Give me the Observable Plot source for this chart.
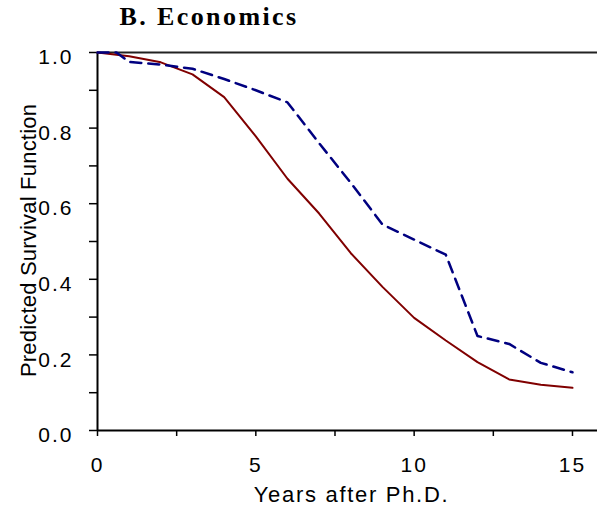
<!DOCTYPE html>
<html>
<head>
<meta charset="utf-8">
<script src="https://cdn.jsdelivr.net/npm/d3@7"></script>
<script src="https://cdn.jsdelivr.net/npm/@observablehq/plot@0.6"></script>
<style>
  html, body { margin: 0; padding: 0; background: white; }
</style>
</head>
<body>
<div id="chart"></div>
<script>
// Data
const solidYears = [0, 1, 2, 3, 4, 5, 6, 7, 8, 9, 10, 11, 12, 13, 14, 15];
const solidSurvival = [1.0, 0.99, 0.974, 0.942, 0.882, 0.778, 0.666, 0.574, 0.469, 0.38, 0.298, 0.238, 0.181, 0.135, 0.121, 0.113];

const dashedYears = [0, 0.6, 1, 2, 3, 4, 5, 6, 7, 8, 9, 10, 11, 12, 13, 14, 15];
const dashedSurvival = [1.0, 1.0, 0.975, 0.968, 0.957, 0.93, 0.90, 0.868, 0.76, 0.655, 0.545, 0.505, 0.465, 0.25, 0.229, 0.179, 0.154];

const xMajorTicks = [0, 5, 10, 15];
const xMinorTicks = [2.5, 7.5, 12.5];
const yMajorTicks = [0, 0.2, 0.4, 0.6, 0.8, 1.0];
const yAllTicks = [0, 0.1, 0.2, 0.3, 0.4, 0.5, 0.6, 0.7, 0.8, 0.9, 1.0];

const titleText = "B. Economics";
const xLabel = "Years after Ph.D.";
const yLabel = "Predicted Survival Function";

const solid = solidYears.map((x, i) => ({x, y: solidSurvival[i]}));
const dashed = dashedYears.map((x, i) => ({x, y: dashedSurvival[i]}));

const chart = Plot.plot({
  width: 597,
  height: 507,
  marginLeft: 97,
  marginRight: 0,
  marginTop: 52,
  marginBottom: 77,
  style: {fontFamily: "'Liberation Sans', Arial, sans-serif", fontSize: "21px", background: "white", overflow: "visible"},
  x: {domain: [0, 15.79], label: null},
  y: {domain: [0, 1], label: null},
  marks: [
    // axis ticks
    Plot.axisY(yAllTicks, {tickSize: 8, tickFormat: () => "", label: null, stroke: "black", strokeWidth: 1.5}),
    Plot.axisY(yMajorTicks, {tickSize: 0, tickPadding: 24, dy: 5, fontSize: 21, fill: "black", label: null, tickFormat: d => d.toFixed(1)}),
    Plot.axisX(xMajorTicks.concat(xMinorTicks), {tickSize: 6, tickFormat: () => "", label: null, stroke: "black", strokeWidth: 1.5}),
    Plot.axisX(xMajorTicks, {tickSize: 0, tickPadding: 27, fontSize: 21, fill: "black", label: null, tickFormat: d => String(d)}),
    // frame lines
    Plot.ruleY([1], {stroke: "#222", strokeWidth: 2}),
    Plot.ruleY([0], {stroke: "black", strokeWidth: 2}),
    Plot.ruleX([0], {stroke: "black", strokeWidth: 2}),
    // series
    Plot.line(solid, {x: "x", y: "y", stroke: "#800000", strokeWidth: 2}),
    Plot.line(dashed, {x: "x", y: "y", stroke: "#000080", strokeWidth: 2.5, strokeDasharray: "11,7"}),
    // labels
    Plot.text([yLabel], {text: d => d, frameAnchor: "left", textAnchor: "middle", lineAnchor: "middle", rotate: -90, dx: -69, dy: -1, fontSize: 22, fill: "black"}),
    Plot.text([xLabel], {text: d => d, frameAnchor: "bottom", textAnchor: "middle", lineAnchor: "bottom", dx: 4, dy: 71, fontSize: 22, fill: "black"}),
    Plot.text([titleText], {text: d => d, frameAnchor: "top-left", textAnchor: "start", lineAnchor: "bottom", dx: 22, dy: -28, fontSize: 26, fontWeight: "bold", fontFamily: "'Liberation Serif', 'Times New Roman', serif", fill: "black"})
  ]
});
document.getElementById("chart").appendChild(chart);

// letter spacing to match the wide lettering of the reference
const spacing = new Map([[titleText, "2.4px"], [xLabel, "1.7px"], [yLabel, "0.2px"]]);
d3.select(chart).selectAll("text").each(function() {
  const t = this.textContent;
  if (spacing.has(t)) this.style.letterSpacing = spacing.get(t);
  else if (/^[0-9.]+$/.test(t)) this.style.letterSpacing = "2px";
});
</script>
</body>
</html>
